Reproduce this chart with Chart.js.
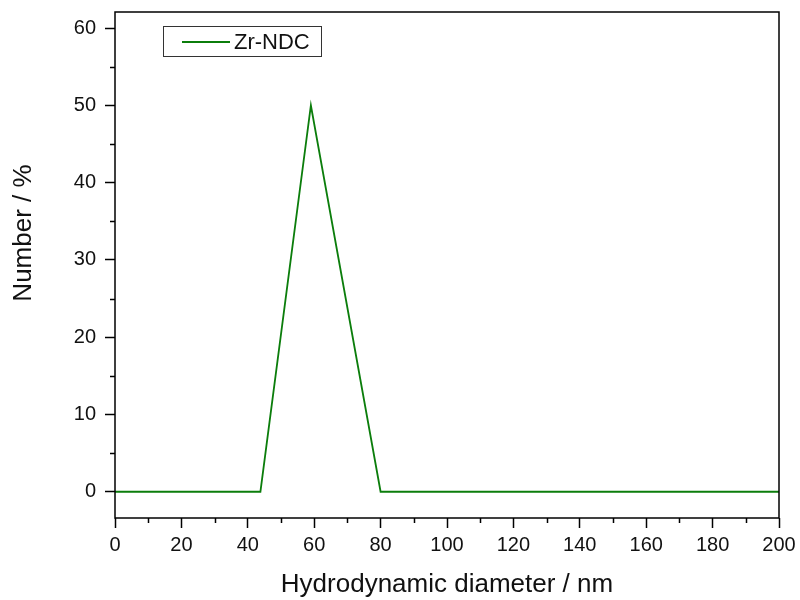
<!DOCTYPE html>
<html>
<head>
<meta charset="utf-8">
<script src="https://cdn.jsdelivr.net/npm/chart.js@4"></script>
<style>
  body { margin: 0; background: #fff; }
</style>
</head>
<body>
<canvas id="graph" width="800" height="600"></canvas>
<script>
// data
const diametres = [0, 43.8, 59, 80, 200];
const nombre = [0, 0, 50, 0, 0];
const serieNom = 'Zr-NDC';

// ticks
const xTicks = [0, 20, 40, 60, 80, 100, 120, 140, 160, 180, 200];
const xMinor = [10, 30, 50, 70, 90, 110, 130, 150, 170, 190];
const yTicks = [0, 10, 20, 30, 40, 50, 60];
const yMinor = [5, 15, 25, 35, 45, 55];

const police = 'Liberation Sans, Arial, sans-serif';
const vert = '#0b7d0b';

// cadre + petites graduations + légende + titre Y
const cadre = {
    id: 'cadre',
    afterDraw(chart) {
        const ctx = chart.ctx;
        const a = chart.chartArea;
        const sx = chart.scales.x, sy = chart.scales.y;
        ctx.save();
        ctx.strokeStyle = '#000';
        ctx.lineWidth = 1.5;
        ctx.strokeRect(a.left, a.top, a.right - a.left, a.bottom - a.top);

        ctx.beginPath();
        xMinor.forEach(v => {
            const px = Math.round(sx.getPixelForValue(v)) + 0.5;
            ctx.moveTo(px, a.bottom);
            ctx.lineTo(px, a.bottom + 5);
        });
        yMinor.forEach(v => {
            const py = Math.round(sy.getPixelForValue(v)) + 0.5;
            ctx.moveTo(a.left, py);
            ctx.lineTo(a.left - 5, py);
        });
        ctx.stroke();

        // légende
        ctx.lineWidth = 1;
        ctx.strokeStyle = '#333';
        ctx.strokeRect(163.5, 26.5, 158, 30);
        ctx.strokeStyle = vert;
        ctx.lineWidth = 1.8;
        ctx.beginPath();
        ctx.moveTo(182, 42);
        ctx.lineTo(230, 42);
        ctx.stroke();
        ctx.fillStyle = '#111';
        ctx.font = '22px ' + police;
        ctx.textBaseline = 'middle';
        ctx.fillText(chart.data.datasets[0].label, 234, 43);

        // titre de l'axe Y
        ctx.translate(24, 233);
        ctx.rotate(-Math.PI / 2);
        ctx.textAlign = 'center';
        ctx.font = '26px ' + police;
        ctx.fillText('Number / %', 0, 0);
        ctx.restore();
    }
};

const ctx = document.getElementById('graph').getContext('2d');

new Chart(ctx, {
    type: 'line',
    data: {
        datasets: [{
            label: serieNom,
            data: diametres.map((d, i) => ({ x: d, y: nombre[i] })),
            borderColor: vert,
            borderWidth: 1.8,
            pointRadius: 0,
            tension: 0,
            fill: false
        }]
    },
    options: {
        responsive: false,
        animation: false,
        layout: { padding: { top: 12, right: 21, left: 0, bottom: 0 } },
        plugins: {
            legend: { display: false },
            tooltip: { enabled: false }
        },
        scales: {
            x: {
                type: 'linear',
                min: 0,
                max: 200,
                afterBuildTicks: s => { s.ticks = xTicks.map(v => ({ value: v })); },
                afterFit: s => { s.height = 82; s.paddingLeft = 0; s.paddingRight = 0; },
                border: { display: false },
                grid: { drawOnChartArea: false, tickLength: 10, tickWidth: 1.5, color: '#000' },
                ticks: {
                    autoSkip: false,
                    maxRotation: 0,
                    padding: 5,
                    color: '#111',
                    font: { family: police, size: 20 }
                },
                title: {
                    display: true,
                    text: 'Hydrodynamic diameter / nm',
                    color: '#111',
                    font: { family: police, size: 26 },
                    padding: { top: 0, bottom: 0 }
                }
            },
            y: {
                type: 'linear',
                min: -3.4,
                max: 62.1,
                afterBuildTicks: s => { s.ticks = yTicks.map(v => ({ value: v })); },
                afterFit: s => { s.width = 115; s.paddingTop = 0; s.paddingBottom = 0; },
                border: { display: false },
                grid: { drawOnChartArea: false, tickLength: 10, tickWidth: 1.5, color: '#000' },
                ticks: {
                    autoSkip: false,
                    padding: 9,
                    color: '#111',
                    font: { family: police, size: 20 }
                },
                title: { display: false }
            }
        }
    },
    plugins: [cadre]
});
</script>
</body>
</html>
